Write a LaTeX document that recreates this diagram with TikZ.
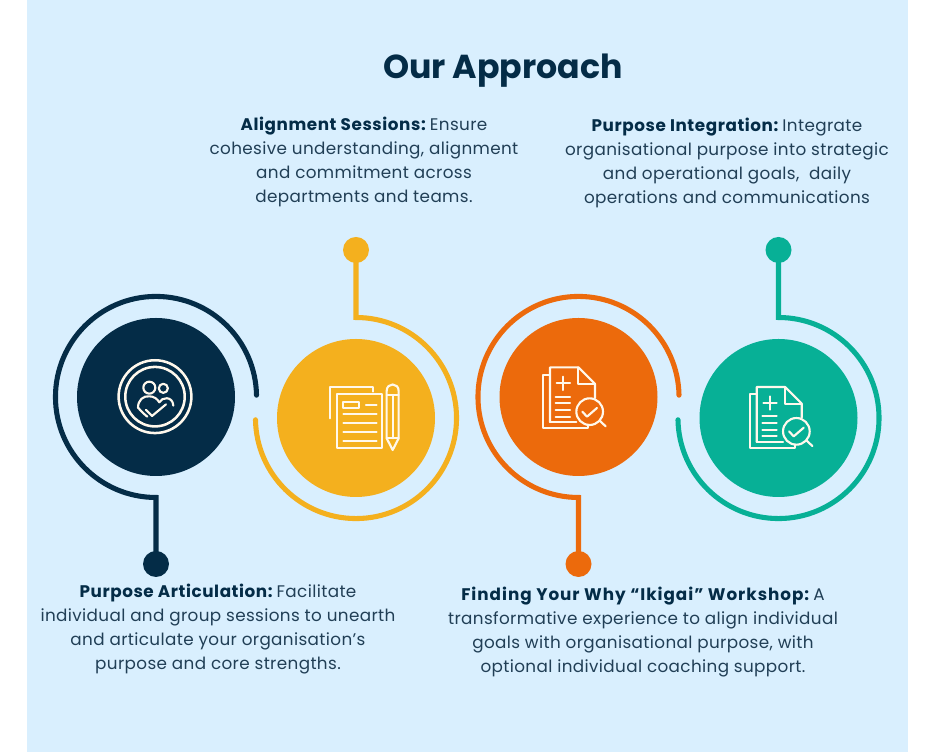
\documentclass[tikz,border=0pt]{standalone}
\usepackage{fontspec}
\setmainfont{Poppins}
\definecolor{panel}{HTML}{D9EFFE}
\definecolor{navy}{HTML}{042C47}
\definecolor{ink}{HTML}{213F56}
\definecolor{amber}{HTML}{F4B01E}
\definecolor{burnt}{HTML}{EC6A0C}
\definecolor{jade}{HTML}{07B096}
\definecolor{iconline}{HTML}{FFF8EC}
\newcommand{\leadin}[2]{{\color{navy}\bfseries\addfontfeature{LetterSpace=#1}#2}\hspace{-1.8pt}}
\tikzset{
  disc/.style={circle,fill=#1,draw=none,minimum size=118.5pt,inner sep=0pt},
  knob/.style={circle,fill=#1,draw=none,minimum size=19.5pt,inner sep=0pt},
  ring/.style={draw=#1,line width=3.8pt,line cap=round,miter limit=10},
  body/.style={align=center,text=ink,font=\fontsize{12.6pt}{18pt}\selectfont\addfontfeature{LetterSpace=2.2},inner sep=0pt},
  iconstroke/.style={draw=iconline,line width=1.6pt,line cap=round,line join=round},
  reporticon/.pic={
    \begin{scope}[x=.25pt,y=-.25pt]
      \draw[iconstroke] (42,44)--(25,44)--(25,205)--(160,205)--(160,194);
      \draw[iconstroke] (45,186)--(45,22)--(130,22)--(180,72)--(180,114);
      \draw[iconstroke] (130,22)--(130,72)--(180,72);
      \draw[iconstroke] (45,186)--(124,186);
      \draw[iconstroke] (85,50)--(85,90) (65,70)--(105,70);
      \draw[iconstroke] (62,110)--(105,110) (62,130)--(105,130) (62,150)--(105,150) (62,170)--(105,170);
      \draw[iconstroke] (164,155) circle[radius=10pt];
      \draw[iconstroke] (142,155)--(156,170)--(186,144);
      \draw[iconstroke] (194,182)--(212,199);
    \end{scope}
  }
}
\begin{document}
\begin{tikzpicture}[x=.75pt,y=.75pt]
\useasboundingbox (0,0) rectangle (940,752);
\fill[white] (0,0) rectangle (940,752);
\fill[panel] (27,0) rectangle (908,752);

\node[font=\fontsize{24.9pt}{30pt}\bfseries\selectfont,text=navy,inner sep=0pt] (title) at (503,681.5) {Our Approach};

% discs and knobs
\node[disc=navy] (d1) at (156,355) {};
\node[disc=amber] (d2) at (356,334) {};
\node[disc=burnt] (d3) at (578.5,355) {};
\node[disc=jade] (d4) at (778.5,334) {};
\node[knob=navy] (k1) at (156,188) {};
\node[knob=amber] (k2) at (356,502) {};
\node[knob=burnt] (k3) at (578.5,188) {};
\node[knob=jade] (k4) at (778.5,502) {};

% rings with stems
\coordinate (j1) at (156,254.5);
\coordinate (j2) at (356,434.5);
\coordinate (j3) at (578.5,254.5);
\coordinate (j4) at (778.5,434.5);
\draw[ring=navy] (k1.center) -- (j1) arc[start angle=270,end angle=1,radius=75.4pt];
\draw[ring=amber] (k2.center) -- (j2) arc[start angle=90,end angle=-179,radius=75.4pt];
\draw[ring=burnt] (k3.center) -- (j3) arc[start angle=270,end angle=1,radius=75.4pt];
\draw[ring=jade] (k4.center) -- (j4) arc[start angle=90,end angle=-179,radius=75.4pt];

% icon 1
\begin{scope}[shift={(110,397)},x=.25pt,y=-.25pt]
  \draw[iconstroke,line width=1.9pt] (135,125) circle[radius=27.3pt];
  \draw[iconstroke,line width=1.9pt] (135,125) circle[radius=22.3pt];
  \draw[iconstroke] (118,98) circle[radius=4.5pt];
  \draw[iconstroke] (160,100) circle[radius=3.4pt];
  \draw[iconstroke] (84,158) .. controls (84,135) and (100,122) .. (118,124) .. controls (132,124) and (142,132) .. (148,142);
  \draw[iconstroke] (148,142) .. controls (155,126) and (188,122) .. (190,152);
  \draw[iconstroke] (84,158) .. controls (95,170) and (105,180) .. (112,185);
  \draw[iconstroke] (108,165)--(126,183)--(168,148);
\end{scope}

% icon 2
\begin{scope}[shift={(320,377)},x=.25pt,y=-.25pt]
  \draw[iconstroke] (30,130)--(30,35)--(160,35)--(160,50);
  \draw[iconstroke] (52,58) rectangle (185,218);
  \draw[iconstroke] (70,82) rectangle (118,100);
  \draw[iconstroke] (138,90)--(170,90);
  \draw[iconstroke] (70,118)--(170,118) (70,145)--(170,145) (70,172)--(170,172) (70,198)--(170,198);
  \draw[iconstroke] (200,190)--(200,48) .. controls (200,22) and (236,22) .. (236,48) -- (236,190) -- (218,225) -- cycle;
  \draw[iconstroke] (200,60)--(236,60) (218,60)--(218,190) (200,190)--(236,190);
\end{scope}

% icons 3 and 4
\pic at (535,392) {reporticon};
\pic at (741.7,372.3) {reporticon};

% texts
\node[body] (t2) at (364,590.5) {\leadin{3.4}{Alignment Sessions:} Ensure\\cohesive understanding, alignment\\and commitment across\\departments and teams.};
\node[body] (t4) at (727,589.5) {\leadin{3.4}{Purpose Integration:} Integrate\\organisational purpose into strategic\\and operational goals,\ \ daily\\operations and communications};
\node[body] (t1) at (218,122.5) {\leadin{3.4}{Purpose Articulation:} Facilitate\\individual and group sessions to unearth\\and articulate your organisation’s\\purpose and core strengths.};
\node[body] (t3) at (643,119.5) {\leadin{5.8}{Finding Your Why “Ikigai” Workshop:} A\\transformative experience to align individual\\goals with organisational purpose, with\\optional individual coaching support.};
\end{tikzpicture}
\end{document}
